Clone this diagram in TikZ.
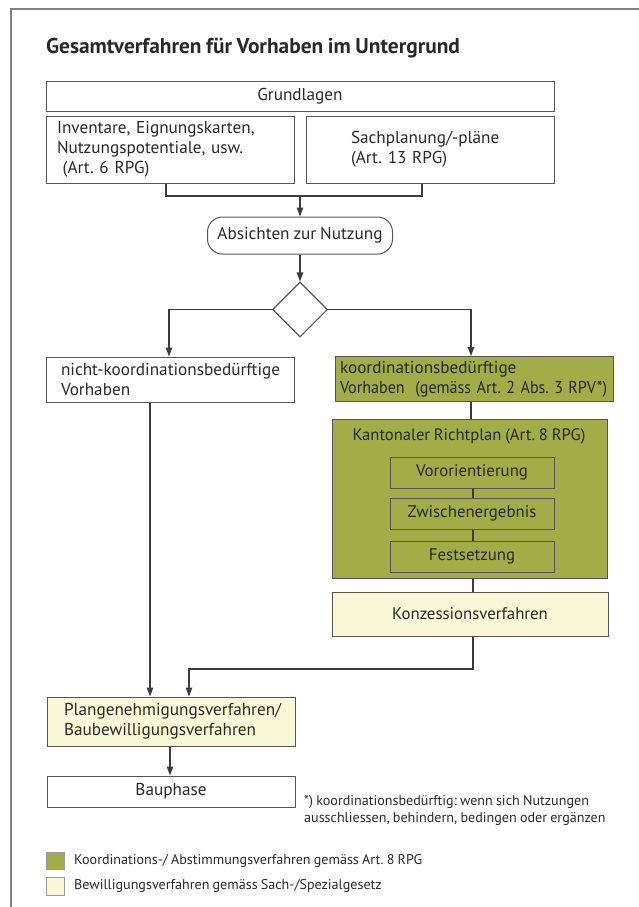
\documentclass[tikz,border=0pt]{standalone}
\usepackage{fontspec}
\usepackage{graphicx}
\setmainfont[WordSpace=0.85]{PT Sans}
\frenchspacing
\usetikzlibrary{shapes.geometric,arrows.meta}
\definecolor{lgreen}{RGB}{163,173,72}
\definecolor{lyellow}{RGB}{248,248,214}
\definecolor{bordergray}{RGB}{85,85,85}
\definecolor{txt}{RGB}{40,40,40}
\tikzset{
  box/.style={draw=bordergray, line width=1pt, fill=white, inner sep=0pt, text=txt,
    font=\fontsize{17.2}{20}\selectfont},
  greenbox/.style={box, fill=lgreen},
  yellowbox/.style={box, fill=lyellow},
  conn/.style={draw=bordergray!70!black, line width=1.1pt},
  arr/.style={conn, -{Triangle[length=9pt,width=6.5pt]}},
  smalltext/.style={text=txt, inner sep=0pt, font=\fontsize{14.1}{17.5}\selectfont},
}
\begin{document}
\begin{tikzpicture}[x=1pt,y=-1pt]
\useasboundingbox (0,0) rectangle (639,907);
\draw[gray, line width=1.2pt] (639,9) -- (11,9) -- (11,907);
\node[anchor=base west, inner sep=0pt, text=txt, font=\fontsize{21.4}{24}\selectfont\bfseries] (title) at (46,53) {Gesamtverfahren für Vorhaben im Untergrund};

\node[box, minimum width=508pt, minimum height=30pt] (grund) at (300,96) {Grundlagen};
\node[box, minimum width=248pt, minimum height=67pt, text width=226pt, align=left] (inv) at (170,149.5) {Inventare, Eignungskarten,\\Nutzungspotentiale, usw.\\\ (Art.\ 6 RPG)};
\node[box, minimum width=248pt, minimum height=67pt, text width=158pt, align=left] (sach) at (430,149.5) {Sachplanung/-pläne\\(Art. 13 RPG)};
\coordinate (brk) at (300,196);
\draw[conn] ([xshift=-4pt]inv.south) |- (brk) -| ([xshift=-8pt]sach.south);

\node[box, rounded corners=15pt, minimum width=185pt, minimum height=37pt] (abs) at (300,235.5) {Absichten zur Nutzung};
\draw[arr] (brk) -- (abs.north);

\node[draw=bordergray, line width=1.1pt, fill=white, diamond, aspect=1, minimum width=55pt, minimum height=55pt, inner sep=0pt] (dia) at (300,309.5) {};
\draw[arr] (abs.south) -- (dia.north);

\node[box, minimum width=248pt, minimum height=45pt, text width=232pt, align=left] (nk) at (170,379.5) {\hspace*{7pt}nicht-koordinationsbedürftige\\\hspace*{7pt}Vorhaben};
\node[greenbox, minimum width=278pt, minimum height=45pt, text width=268pt, align=left] (kb) at (474,379) {koordinationsbedürftige\\\resizebox{267pt}{\height}{Vorhaben\ \ (gemäss Art. 2 Abs. 3 RPV*)}};
\draw[arr] (dia.west) -| ([xshift=-1pt]nk.north);
\draw[arr] (dia.east) -| ([xshift=-3pt]kb.north);

\node[greenbox, minimum width=275pt, minimum height=159pt] (kr) at (469.5,498.5) {};
\node[text=txt, font=\fontsize{16.6}{20}\selectfont, inner sep=0pt] (krt) at (469,436) {Kantonaler Richtplan (Art. 8 RPG)};
\draw[conn] ([xshift=-3pt]kb.south) -- ([xshift=-3pt]kb.south |- kr.north);

\node[greenbox, minimum width=164pt, minimum height=31pt, font=\fontsize{16.8}{20}\selectfont] (vo) at (472,472.5) {Vororientierung};
\node[greenbox, minimum width=164pt, minimum height=31pt, font=\fontsize{16.8}{20}\selectfont] (zw) at (472,513.5) {Zwischenergebnis};
\node[greenbox, minimum width=164pt, minimum height=31pt, font=\fontsize{16.8}{20}\selectfont] (fe) at (472,556.5) {Festsetzung};
\draw[conn] ([xshift=1pt]vo.south) -- ([xshift=1pt]zw.north);
\draw[conn] ([xshift=1pt]zw.south) -- ([xshift=1pt]fe.north);

\node[yellowbox, minimum width=276pt, minimum height=44pt, font=\fontsize{16.8}{20}\selectfont] (ko) at (470,614) {Konzessionsverfahren};
\draw[conn] ([xshift=1pt]fe.south |- kr.south) -- ([xshift=1pt]fe.south |- ko.north);

\node[yellowbox, minimum width=248pt, minimum height=49pt, text width=214pt, align=left] (pg) at (171,721.5) {Plangenehmigungsverfahren/\\Baubewilligungsverfahren};
\coordinate (jc) at (189,669);
\draw[arr] ([xshift=3pt]ko.south) |- (jc) -- (jc |- pg.north);
\draw[arr] ([xshift=-20pt]nk.south) -- ([xshift=-20pt]nk.south |- pg.north);

\node[box, minimum width=248pt, minimum height=31pt] (bp) at (171,791.5) {Bauphase};
\draw[arr] ([xshift=-1pt]pg.south) -- ([xshift=-1pt]bp.north);

\node[smalltext, anchor=west, align=left] (fn) at (304,810.5) {*) koordinationsbedürftig: wenn sich Nutzungen\\ausschliessen, behindern, bedingen oder ergänzen};

\node[draw=bordergray!60, fill=lgreen, minimum width=18pt, minimum height=17pt, inner sep=0pt] (lg1) at (55,860.5) {};
\node[smalltext, anchor=west] (lt1) at (74,861) {Koordinations-/ Abstimmungsverfahren gemäss Art. 8 RPG};
\node[draw=bordergray!60, fill=lyellow, minimum width=18pt, minimum height=18pt, inner sep=0pt] (lg2) at (55,886) {};
\node[smalltext, anchor=west] (lt2) at (74,886) {Bewilligungsverfahren gemäss Sach-/Spezialgesetz};
\end{tikzpicture}
\end{document}
